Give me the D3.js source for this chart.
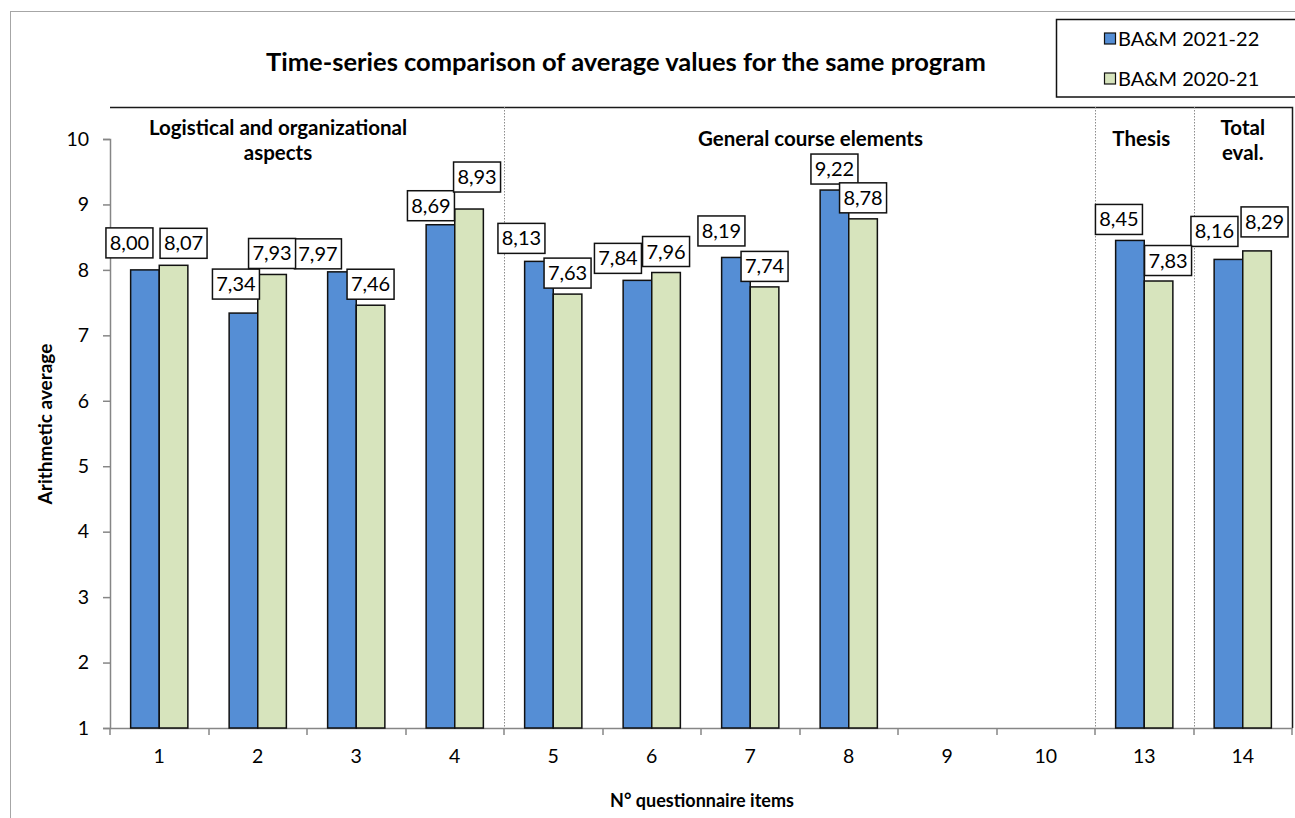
<!DOCTYPE html>
<html>
<head>
<meta charset="utf-8">
<script src="https://cdn.jsdelivr.net/npm/d3@7"></script>
<style>
  html, body { margin: 0; padding: 0; background: #fff; }
  svg { display: block; }
  text { font-family: Lato, "Noto Sans", sans-serif; }
</style>
</head>
<body>
<svg id="chart" width="1295" height="818"></svg>
<script>
// ---- data ----
const categories = ["1", "2", "3", "4", "5", "6", "7", "8", "9", "10", "13", "14"];
const series2122 = [8.00, 7.34, 7.97, 8.69, 8.13, 7.84, 8.19, 9.22, null, null, 8.45, 8.16];
const series2021 = [8.07, 7.93, 7.46, 8.93, 7.63, 7.96, 7.74, 8.78, null, null, 7.83, 8.29];
const seriesNames = ["BA&M 2021-22", "BA&M 2020-21"];
const yTicks = [1, 2, 3, 4, 5, 6, 7, 8, 9, 10];
const sectionNames = [["Logistical and organizational", "aspects"], ["General course elements"], ["Thesis"], ["Total", "eval."]];
const sectionStart = [0, 4, 10, 11];
const sectionEnd = [3, 9, 10, 11];

// ---- layout / style (not data) ----
const colors = ["#558ED5", "#D7E4BD"];
// manual label shifts (dx, dy) relative to default label spot above each bar
const labelShift2122 = [[-15.5,-6],[-7.5,-8],[-24,3],[-9.5,2],[-17.5,-2],[-19.5,-1],[-14.5,-5.5],[0,0],null,null,[-11,0],[-14,-7]];
const labelShift2021 = [[10,-1],[0,0],[0,0],[8,-11],[0,0],[0,0],[0,0.5],[0,0],null,null,[9.5,0.5],[7.5,-8]];
const sectionLabelDx = [-29, 11, -3, 0];

const svg = d3.select("#chart");
const W = 1295, H = 818;
const plot = { left: 110, right: 1292, top: 107, bottom: 728 };

// outer frame
svg.append("line").attr("x1", 10.5).attr("x2", 10.5).attr("y1", 11).attr("y2", H).attr("stroke", "#a6a6a6").attr("stroke-width", 1);
svg.append("line").attr("x1", 10).attr("x2", W).attr("y1", 11.5).attr("y2", 11.5).attr("stroke", "#a6a6a6").attr("stroke-width", 1);

const x = d3.scaleBand().domain(categories).range([plot.left, plot.right]).paddingInner(0).paddingOuter(0);
const x1 = d3.scaleBand().domain([0, 1]).range([0, x.bandwidth()]).paddingInner(0).paddingOuter(0.7213);
const y = d3.scaleLinear().domain([1, 10]).range([plot.bottom, 139]);

// plot border top/right (black)
svg.append("path")
  .attr("d", `M${plot.left},${plot.top + 0.5}H${plot.right + 0.5}V${plot.bottom}`)
  .attr("fill", "none").attr("stroke", "#1a1a1a").attr("stroke-width", 1.5);

// section separators (dotted)
sectionStart.slice(1).forEach(si => {
  const sx = Math.round(x(categories[si])) + 0.5;
  svg.append("line").attr("x1", sx).attr("x2", sx).attr("y1", plot.top).attr("y2", plot.bottom)
    .attr("stroke", "#8c8c8c").attr("stroke-width", 1).attr("stroke-dasharray", "1.5,1.5");
});

// y axis
const yAxis = d3.axisLeft(y).tickValues(yTicks).tickSize(7).tickPadding(14).tickFormat(d3.format("d"));
const gy = svg.append("g").attr("transform", `translate(${plot.left},0)`).call(yAxis);
gy.select(".domain").attr("stroke", "#868686").attr("stroke-width", 1.5);
gy.selectAll(".tick line").attr("stroke", "#868686").attr("stroke-width", 1.5);
gy.selectAll(".tick text").attr("font-size", 19.5).attr("fill", "#000").attr("font-family", "Lato, sans-serif");

// x axis
const xAxis = d3.axisBottom(x).tickSize(0).tickPadding(21);
const gx = svg.append("g").attr("transform", `translate(0,${plot.bottom})`).call(xAxis);
gx.select(".domain").attr("stroke", "#868686").attr("stroke-width", 1.5);
gx.selectAll(".tick text").attr("font-size", 19.5).attr("fill", "#000").attr("font-family", "Lato, sans-serif");
// boundary tick marks
const bounds = categories.map(c => x(c)).concat([plot.right]);
svg.append("g").selectAll("line").data(bounds).join("line")
  .attr("x1", d => Math.round(d)).attr("x2", d => Math.round(d))
  .attr("y1", plot.bottom).attr("y2", plot.bottom + 7)
  .attr("stroke", "#868686").attr("stroke-width", 1.5);

// bars
const allSeries = [series2122, series2021];
const shifts = [labelShift2122, labelShift2021];
const barG = svg.append("g");
allSeries.forEach((ser, si) => {
  barG.selectAll(null).data(categories.map((c, i) => ({ c, v: ser[i], i }))
    .filter(d => d.v !== null)).join("rect")
    .attr("x", d => x(d.c) + x1(si))
    .attr("width", x1.bandwidth())
    .attr("y", d => y(d.v))
    .attr("height", d => y(1) - y(d.v))
    .attr("fill", colors[si])
    .attr("stroke", "#111").attr("stroke-width", 1.5);
});

// labels
const fmt = v => v.toFixed(2).replace(".", ",");
const labG = svg.append("g");
allSeries.forEach((ser, si) => {
  categories.forEach((c, i) => {
    const v = ser[i];
    if (v === null) return;
    const sh = shifts[si][i] || [0, 0];
    const cx = x(c) + x1(si) + x1.bandwidth() / 2 + sh[0];
    const cy = y(v) - 21 + sh[1];
    const bw = 47, bh = 30;
    labG.append("rect").attr("x", cx - bw / 2).attr("y", cy - bh / 2).attr("width", bw).attr("height", bh)
      .attr("fill", "#fff").attr("stroke", "#111").attr("stroke-width", 1.5);
    labG.append("text").attr("x", cx).attr("y", cy + 7).attr("text-anchor", "middle")
      .attr("font-size", 20).attr("fill", "#000").text(fmt(v));
  });
});

// section labels
sectionNames.forEach((lines, k) => {
  const x0 = x(categories[sectionStart[k]]);
  const xEnd = x(categories[sectionEnd[k]]) + x.bandwidth();
  const cx = (x0 + xEnd) / 2 + sectionLabelDx[k];
  const t = svg.append("text").attr("text-anchor", "middle").attr("font-size", 20.5).attr("font-weight", "bold").attr("fill", "#000");
  if (lines.length === 1) {
    t.append("tspan").attr("x", cx).attr("y", 146).text(lines[0]);
  } else {
    lines.forEach((ln, j) => t.append("tspan").attr("x", cx).attr("y", 135 + j * 25).text(ln));
  }
});

// title
svg.append("text").attr("x", 626).attr("y", 71).attr("text-anchor", "middle")
  .attr("font-size", 25.5).attr("font-weight", "bold").attr("fill", "#000")
  .text("Time-series comparison of average values for the same program");

// axis titles
svg.append("text").attr("transform", "translate(52,424) rotate(-90)").attr("text-anchor", "middle")
  .attr("font-size", 19).attr("font-weight", "bold").attr("fill", "#000").text("Arithmetic average");
svg.append("text").attr("x", 702).attr("y", 807).attr("text-anchor", "middle")
  .attr("font-size", 18).attr("font-weight", "bold").attr("fill", "#000").text("N° questionnaire items");

// legend
const lg = svg.append("g");
lg.append("rect").attr("x", 1056.5).attr("y", 19.5).attr("width", 250).attr("height", 77.5)
  .attr("fill", "#fff").attr("stroke", "#111").attr("stroke-width", 1.5);
seriesNames.forEach((nm, i) => {
  const ly = 39 + i * 40;
  lg.append("rect").attr("x", 1104.5).attr("y", ly - 6).attr("width", 11).attr("height", 11)
    .attr("fill", colors[i]).attr("stroke", "#111").attr("stroke-width", 1.2);
  lg.append("text").attr("x", 1118).attr("y", ly + 7).attr("font-size", 20).attr("fill", "#000").text(nm);
});
</script>
</body>
</html>
